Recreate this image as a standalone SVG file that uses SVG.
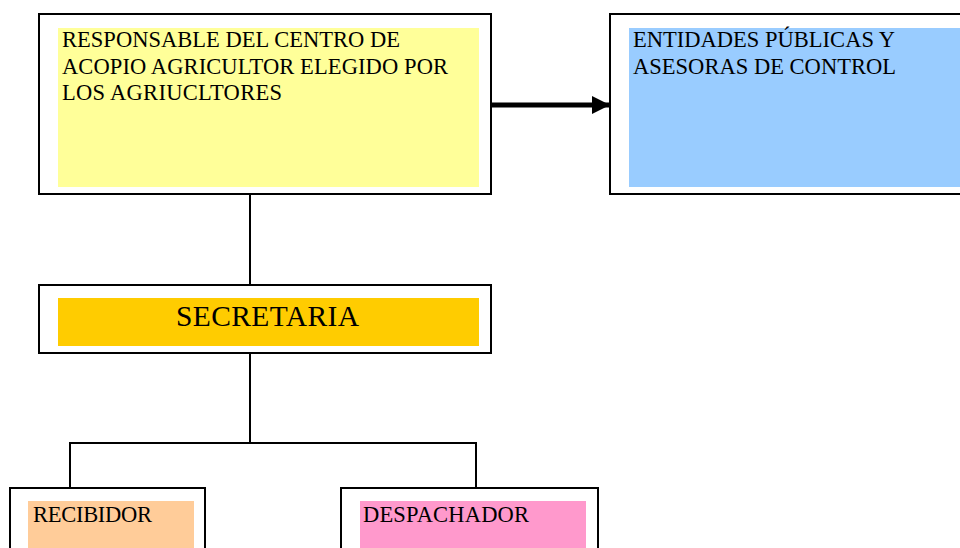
<svg xmlns="http://www.w3.org/2000/svg" width="960" height="548" viewBox="0 0 960 548">
<defs>
<style>
.frame{fill:#fff;stroke:#000;stroke-width:2}
.t{font-family:"Liberation Serif","Times New Roman",serif;font-size:22.5px;fill:#000}
.conn{fill:none;stroke:#000;stroke-width:2}
</style>
<marker id="ah" markerWidth="18" markerHeight="18" refX="18" refY="9" orient="auto" markerUnits="userSpaceOnUse">
<path d="M0,0 L18,9 L0,18 Z" fill="#000"/>
</marker>
</defs>
<rect width="960" height="548" fill="#fff"/>
<g id="connectors">
<line class="conn" x1="250" y1="194" x2="250" y2="285"/>
<line class="conn" x1="250" y1="353" x2="250" y2="443"/>
<polyline class="conn" points="70,488 70,443 476,443 476,488"/>
<line x1="491" y1="105" x2="610" y2="105" stroke="#000" stroke-width="5" marker-end="url(#ah)"/>
</g>
<g id="responsable">
<rect class="frame" x="39" y="14" width="452" height="180"/>
<rect x="58" y="28" width="421" height="159" fill="#ffff99"/>
<text class="t" x="62" y="47" textLength="338">RESPONSABLE DEL CENTRO DE</text>
<text class="t" x="62" y="73.5" textLength="386">ACOPIO AGRICULTOR ELEGIDO POR</text>
<text class="t" x="62" y="100" textLength="220">LOS AGRIUCLTORES</text>
</g>
<g id="entidades">
<rect class="frame" x="610" y="14" width="360" height="180"/>
<rect x="629" y="28" width="331" height="159" fill="#99ccff"/>
<text class="t" x="633" y="47" textLength="262">ENTIDADES PÚBLICAS Y</text>
<text class="t" x="633" y="74" textLength="263">ASESORAS DE CONTROL</text>
</g>
<g id="secretaria">
<rect class="frame" x="39" y="285" width="452" height="68"/>
<rect x="58" y="298" width="421" height="48" fill="#ffcc00"/>
<text class="t" x="176" y="326" textLength="183" style="font-size:29.5px">SECRETARIA</text>
</g>
<g id="recibidor">
<rect class="frame" x="10" y="488" width="195" height="80"/>
<rect x="28" y="501" width="166" height="60" fill="#ffcc99"/>
<text class="t" x="33" y="522" textLength="119">RECIBIDOR</text>
</g>
<g id="despachador">
<rect class="frame" x="341" y="488" width="257" height="80"/>
<rect x="360" y="501" width="226" height="60" fill="#ff99cc"/>
<text class="t" x="363" y="522" textLength="166">DESPACHADOR</text>
</g>
</svg>
